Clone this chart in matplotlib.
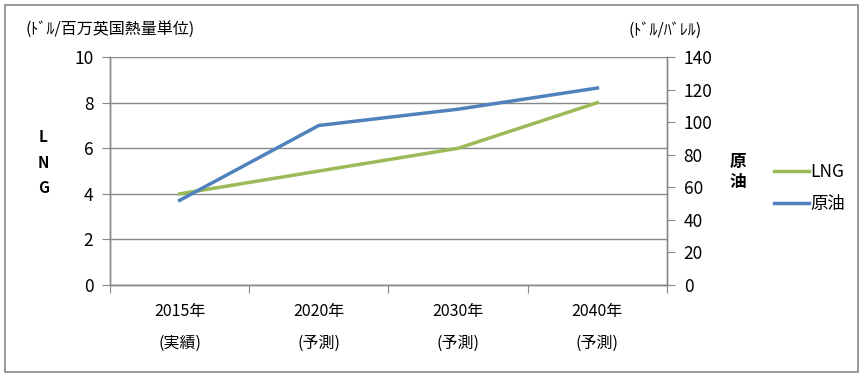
import matplotlib.pyplot as plt
from matplotlib.patches import Rectangle

plt.rcParams['font.family'] = ['Noto Sans CJK JP', 'DejaVu Sans']

years = ['2015年\n(実績)', '2020年\n(予測)', '2030年\n(予測)', '2040年\n(予測)']
lng = [4.0, 5.0, 6.0, 8.0]
crude = [52, 98, 108, 121]

fig = plt.figure(figsize=(8.64, 3.78), dpi=100)
fig.patches.append(Rectangle((0.006, 0.016), 0.987, 0.971, transform=fig.transFigure,
                             fill=False, edgecolor='#888888', linewidth=1.2))

ax = fig.add_axes([0.1273, 0.246, 0.6447, 0.603])
ax2 = ax.twinx()

x = range(len(years))
l1, = ax.plot(x, lng, color='#9BBB59', linewidth=2.5, label='LNG')
l2, = ax2.plot(x, crude, color='#4F81BD', linewidth=2.5, label='原油')

ax.set_xlim(-0.5, 3.5)
ax.set_ylim(0, 10)
ax.set_yticks(range(0, 11, 2))
ax2.set_ylim(0, 140)
ax2.set_yticks(range(0, 141, 20))

ax.set_xticks([-0.5, 0.5, 1.5, 2.5, 3.5])
ax.set_xticklabels([])
ax.set_xticks(list(x), minor=True)
ax.set_xticklabels(years, minor=True, fontsize=11.5, linespacing=2.1)
ax.tick_params(axis='x', which='minor', length=0, pad=13)
ax.tick_params(axis='x', which='major', length=6, color='#888888', direction='out')

ax.yaxis.grid(True, color='#888888', linewidth=1)
ax.set_axisbelow(True)
ax.tick_params(axis='y', length=6, color='#888888', labelsize=12.5, pad=6)
ax2.tick_params(axis='y', length=6, color='#888888', labelsize=12.5, pad=6)

for a in (ax, ax2):
    a.spines['top'].set_visible(False)
    for s in ('left', 'right', 'bottom'):
        a.spines[s].set_color('#888888')
        a.spines[s].set_linewidth(1)

fig.text(0.029, 0.92, '(ﾄﾞﾙ/百万英国熱量単位)', fontsize=11.5, va='center', ha='left')
fig.text(0.727, 0.92, '(ﾄﾞﾙ/ﾊﾞﾚﾙ)', fontsize=11.5, va='center', ha='left')
fig.text(0.05, 0.57, 'L\nN\nG', fontsize=11, fontweight='bold', ha='center', va='center',
         linespacing=1.7)
fig.text(0.854, 0.545, '原\n油', fontsize=12, fontweight='bold', ha='center', va='center',
         linespacing=1.1)

fig.legend([l1, l2], ['LNG', '原油'], loc='center left', bbox_to_anchor=(0.878, 0.503),
           frameon=False, fontsize=12.5, handlelength=2.0, handletextpad=0.1,
           labelspacing=0.8)

fig.savefig('out.png', dpi=100)
